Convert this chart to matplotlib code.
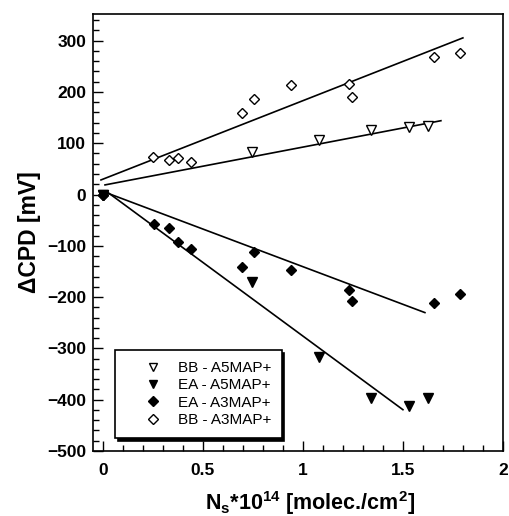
import numpy as np
import matplotlib
matplotlib.use('Agg')
import matplotlib.pyplot as plt
from matplotlib.ticker import MultipleLocator

plt.rcParams['font.family'] = 'Liberation Sans'
plt.rcParams['mathtext.fontset'] = 'custom'
plt.rcParams['mathtext.bf'] = 'Liberation Sans:bold'
plt.rcParams['mathtext.rm'] = 'Liberation Sans:bold'
plt.rcParams['mathtext.default'] = 'bf'

# BB - A5MAP+ (open down triangles)
bb_a5_x = [0.0, 0.747, 1.082, 1.340, 1.531, 1.623]
bb_a5_y = [0, 82, 107, 126, 131, 133]

# EA - A5MAP+ (filled down triangles)
ea_a5_x = [0.0, 0.747, 1.082, 1.340, 1.531, 1.623]
ea_a5_y = [0, -171, -317, -397, -413, -397]

# EA - A3MAP+ (filled diamonds)
ea_a3_x = [0.0, 0.253, 0.328, 0.377, 0.442, 0.695, 0.753, 0.938, 1.229, 1.245, 1.653, 1.786]
ea_a3_y = [0, -58, -65, -93, -107, -141, -112, -147, -186, -207, -212, -193]

# BB - A3MAP+ (open diamonds)
bb_a3_x = [0.0, 0.251, 0.328, 0.377, 0.442, 0.695, 0.753, 0.938, 1.229, 1.245, 1.653, 1.786]
bb_a3_y = [0, 73, 68, 72, 63, 159, 186, 214, 216, 191, 269, 276]

# linear fits: (intercept, slope, x start, x end)
fit_bb_a5 = (18, 74.5, 0.01, 1.69)
fit_ea_a5 = (11, -287, 0.02, 1.50)
fit_ea_a3 = (6, -146.7, 0.02, 1.61)
fit_bb_a3 = (30, 153, -0.01, 1.80)

fig = plt.figure(figsize=(5.09, 5.16), dpi=100)
ax = fig.add_axes([0.1827, 0.126, 0.8053, 0.8469])

for b, m, x0, x1 in [fit_bb_a3, fit_bb_a5, fit_ea_a3, fit_ea_a5]:
    xs = np.array([x0, x1])
    ax.plot(xs, b + m * xs, color='black', lw=1.2, zorder=2)

ax.plot(bb_a5_x, bb_a5_y, 'v', ms=7, mfc='white', mec='black', mew=1.0, ls='none',
        label='BB - A5MAP+', zorder=3)
ax.plot(bb_a3_x, bb_a3_y, 'D', ms=5.5, mfc='white', mec='black', mew=1.0, ls='none',
        label='BB - A3MAP+', zorder=3)
ax.plot(ea_a5_x, ea_a5_y, 'v', ms=7, mfc='black', mec='black', ls='none',
        label='EA - A5MAP+', zorder=4)
ax.plot(ea_a3_x, ea_a3_y, 'D', ms=5.5, mfc='black', mec='black', ls='none',
        label='EA - A3MAP+', zorder=4)

ax.set_xlim(-0.05, 2)
ax.set_ylim(-500, 352)
ax.set_xticks([0, 0.5, 1, 1.5, 2])
ax.set_xticklabels(['0', '0.5', '1', '1.5', '2'])
ax.set_yticks(np.arange(-500, 301, 100))
ax.xaxis.set_minor_locator(MultipleLocator(0.1))
ax.yaxis.set_minor_locator(MultipleLocator(20))
ax.tick_params(which='both', direction='in', top=False, right=False, width=1)
ax.tick_params(which='major', length=7, labelsize=12.5, pad=5)
ax.tick_params(axis='x', which='major', pad=9)
ax.tick_params(which='minor', length=4)
for lab in ax.get_xticklabels() + ax.get_yticklabels():
    lab.set_fontweight('bold')
for s in ax.spines.values():
    s.set_linewidth(1.2)

ax.set_ylabel('ΔCPD [mV]', fontsize=16.5, fontweight='bold', labelpad=4)
ax.set_xlabel(r'N$_s$*10$^{14}$ [molec./cm$^2$]', fontsize=15.5, fontweight='bold')
ax.xaxis.set_label_coords(0.53, -0.088)

h, l = ax.get_legend_handles_labels()
order = [0, 2, 3, 1]
leg = ax.legend([h[i] for i in order], [l[i] for i in order],
                loc='lower left', bbox_to_anchor=(0.0537, 0.030),
                fontsize=11, frameon=True, fancybox=False, shadow={'color': 'black', 'alpha': 1},
                edgecolor='black', framealpha=1, borderpad=0.7, labelspacing=0.22,
                handletextpad=-0.17, handlelength=3.57, borderaxespad=0, markerscale=0.85)
leg.get_frame().set_linewidth(1.2)

fig.savefig('out.png', dpi=100)
